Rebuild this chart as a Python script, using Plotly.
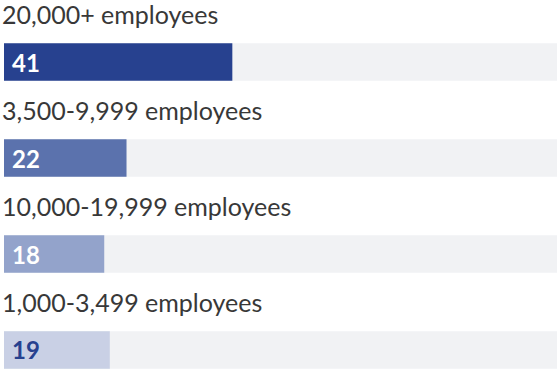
import plotly.graph_objects as go

# Company size groups, in display order (top to bottom)
categories = ["20,000+ employees", "3,500-9,999 employees",
              "10,000-19,999 employees", "1,000-3,499 employees"]
values = [41, 22, 18, 19]
bar_colors = ["#27418F", "#5B72AD", "#93A3CB", "#C9D0E5"]
value_colors = ["#FFFFFF", "#FFFFFF", "#FFFFFF", "#27418F"]
track_max = 100

pos = list(range(len(categories)))

fig = go.Figure()

# Light grey background track for each row
fig.add_trace(go.Bar(
    x=[track_max] * len(categories), y=pos, orientation="h",
    marker=dict(color="#F1F2F4", line=dict(width=0)),
    width=0.39, hoverinfo="skip", showlegend=False,
))

# Value bars
fig.add_trace(go.Bar(
    x=values, y=pos, orientation="h",
    marker=dict(color=bar_colors, line=dict(width=0)),
    width=0.39, hoverinfo="skip", showlegend=False,
))

# Category labels above each bar, values inside each bar
for i, (cat, val, vc) in enumerate(zip(categories, values, value_colors)):
    fig.add_annotation(
        x=0, y=i - 0.5, xref="x", yref="y", text=cat, showarrow=False,
        xanchor="left", yanchor="middle", xshift=-4,
        font=dict(family="Lato", size=25, color="#383838", weight=400),
    )
    fig.add_annotation(
        x=0, y=i, xref="x", yref="y", text=str(val), showarrow=False,
        xanchor="left", yanchor="middle", xshift=6,
        font=dict(family="Lato", size=24, color=vc, weight=700),
    )

fig.update_layout(
    width=557, height=369,
    margin=dict(l=4, r=0, t=0, b=0),
    barmode="overlay",
    paper_bgcolor="white", plot_bgcolor="white",
    xaxis=dict(range=[0, 99.3], visible=False, fixedrange=True),
    yaxis=dict(range=[3.198, -0.646], visible=False, fixedrange=True),
)

fig.write_html("out.html")
